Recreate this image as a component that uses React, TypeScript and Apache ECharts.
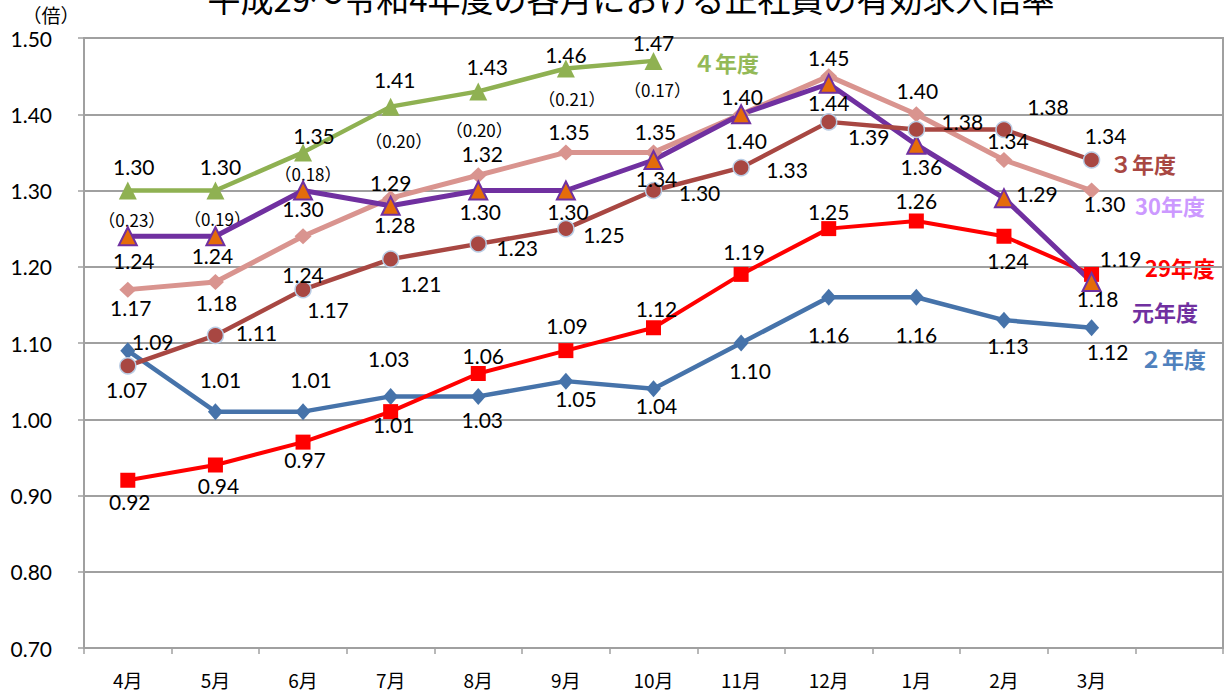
import React, { useEffect, useRef } from "react";
import * as echarts from "echarts";

const months = ["4月", "5月", "6月", "7月", "8月", "9月", "10月", "11月", "12月", "1月", "2月", "3月", ""];
const tickValues = [0.7, 0.8, 0.9, 1.0, 1.1, 1.2, 1.3, 1.4, 1.5];

const fy2 = [1.09, 1.01, 1.01, 1.03, 1.03, 1.05, 1.04, 1.10, 1.16, 1.16, 1.13, 1.12];
const fy29 = [0.92, 0.94, 0.97, 1.01, 1.06, 1.09, 1.12, 1.19, 1.25, 1.26, 1.24, 1.19];
const fy30 = [1.17, 1.18, 1.24, 1.29, 1.32, 1.35, 1.35, 1.40, 1.45, 1.40, 1.34, 1.30];
const fyR1 = [1.24, 1.24, 1.30, 1.28, 1.30, 1.30, 1.34, 1.40, 1.44, 1.36, 1.29, 1.18];
const fy3 = [1.07, 1.11, 1.17, 1.21, 1.23, 1.25, 1.30, 1.33, 1.39, 1.38, 1.38, 1.34];
const fy4 = [1.30, 1.30, 1.35, 1.41, 1.43, 1.46, 1.47];
const diff4 = [0.23, 0.19, 0.18, 0.20, 0.20, 0.21, 0.17];

// label offsets (style only)
const blueOff = [[25, -9], [5, -32], [8, -32], [-2, -38], [4, 23], [10, 17], [3, 17], [9, 27], [0, 37], [0, 37], [4, 25], [16, 24]];
const redOff = [[2, 21], [3, 20], [2, 17], [3, 13], [5, -18], [1, -25], [3, -19], [3, -23], [0, -17], [0, -21], [4, 24], [29, -16]];
const pinkOff = [[3, 18], [1, 20], [0, 38], [0, -16], [4, -22], [3, -21], [2, -21], [1, -18], [0, -19], [1, -24], [4, -20], [13, 13]];
const purpleOff = [[6, 24], [-3, 19], [0, 18], [4, 19], [2, 21], [2, 21], [3, 18], [5, 26], [0, 19], [5, 22], [33, -5], [6, 16]];
const brownOff = [[-1, 24], [41, -3], [25, 20], [30, 24], [39, 4], [38, 6], [46, 2], [46, 2], [40, 15], [46, -8], [44, -23], [14, -25]];
const greenOff = [[6, -24], [5, -24], [11, -17], [4, -27], [9, -25], [0, -14], [0, -18]];
const diffOff = [[4, 29], [2, 28], [5, 21], [8, 34], [1, 38], [6, 30], [4, 29]];

const LABEL_FONT = "Lato, 'Noto Sans', sans-serif";
const CJK = "'Noto Sans CJK JP', 'Noto Sans', sans-serif";

function withLabels(values: number[], offs: number[][]) {
  return values.map((v, i) => ({
    value: v,
    label: { position: "inside", offset: offs[i] },
  }));
}

export default function App() {
  const ref = useRef<HTMLDivElement>(null);
  useEffect(() => {
    document.body.style.margin = "0";
    const chart = echarts.init(ref.current!, null, { renderer: "svg" });
    const baseLabel = {
      show: true,
      color: "#000",
      fontSize: 21,
      fontFamily: LABEL_FONT,
      formatter: (p: any) => Number(p.value).toFixed(2),
    };
    const mk = (name: string, values: number[], offs: number[][], color: string, width: number, symbol: string, symbolSize: any, itemStyle: any) => ({
      name,
      type: "line",
      data: withLabels(values, offs),
      symbol,
      symbolSize,
      lineStyle: { color, width },
      itemStyle,
      label: baseLabel,
      emphasis: { disabled: true },
      z: 2,
    });
    const option: any = {
      animation: false,
      grid: { left: 84, right: 2, top: 38, bottom: 45, show: true, borderColor: "#A0A0A0", borderWidth: 2 },
      xAxis: {
        type: "category",
        data: months,
        boundaryGap: true,
        axisLine: { lineStyle: { color: "#A0A0A0", width: 2 } },
        axisTick: { show: true, interval: 0, length: 6, lineStyle: { color: "#A0A0A0", width: 1.5 } },
        axisLabel: { color: "#000", fontSize: 19, fontFamily: CJK, margin: 22, interval: 0 },
        splitLine: { show: false },
      },
      yAxis: {
        type: "value",
        min: tickValues[0],
        max: tickValues[tickValues.length - 1],
        interval: 0.1,
        axisLine: { show: true, lineStyle: { color: "#A0A0A0", width: 2 } },
        axisTick: { show: true, length: 6, lineStyle: { color: "#A0A0A0", width: 1.5 } },
        axisLabel: { color: "#000", fontSize: 21, fontFamily: LABEL_FONT, margin: 32, formatter: (v: number) => v.toFixed(2) },
        splitLine: { show: true, lineStyle: { color: "#A0A0A0", width: 2 } },
      },
      series: [
        mk("２年度", fy2, blueOff, "#4673AA", 4.5, "diamond", [15, 17], { color: "#4673AA" }),
        mk("29年度", fy29, redOff, "#FF0000", 4, "rect", 15, { color: "#FF0000" }),
        mk("30年度", fy30, pinkOff, "#D9948F", 5, "diamond", [17, 16], { color: "#D9948F" }),
        mk("元年度", fyR1, purpleOff, "#7030A0", 5, "triangle", 18, { color: "#E46C0A", borderColor: "#7030A0", borderWidth: 2 }),
        mk("３年度", fy3, brownOff, "#A84742", 4.5, "circle", 16, { color: "#A84742", borderColor: "#B9CDE5", borderWidth: 1.5 }),
        mk("４年度", fy4, greenOff, "#8FB152", 4.5, "triangle", 18, { color: "#8FB152" }),
        {
          name: "diff",
          type: "line",
          data: withLabels(fy4, diffOff),
          symbol: "circle",
          symbolSize: 1,
          itemStyle: { color: "rgba(0,0,0,0)" },
          lineStyle: { width: 0, opacity: 0 },
          label: {
            show: true,
            color: "#000",
            fontSize: 17,
            fontFamily: CJK,
            formatter: (p: any) => "（" + diff4[p.dataIndex].toFixed(2) + "）",
          },
          emphasis: { disabled: true },
          silent: true,
          z: 1,
        },
      ],
      graphic: [
        {
          type: "text",
          style: { text: "平成29～令和4年度の各月における正社員の有効求人倍率", x: 631, y: 14, align: "center", verticalAlign: "bottom", fontSize: 33, fontFamily: CJK, fill: "#000" },
        },
        { type: "text", style: { text: "（倍）", x: 51, y: 14, align: "center", verticalAlign: "middle", fontSize: 19, fontFamily: CJK, fill: "#000" } },
        { type: "text", style: { text: "４年度", x: 693, y: 62, align: "left", verticalAlign: "middle", fontSize: 22, fontWeight: "bold", fontFamily: CJK, fill: "#93B957" } },
        { type: "text", style: { text: "３年度", x: 1110, y: 163, align: "left", verticalAlign: "middle", fontSize: 22, fontWeight: "bold", fontFamily: CJK, fill: "#A84742" } },
        { type: "text", style: { text: "30年度", x: 1135, y: 205, align: "left", verticalAlign: "middle", fontSize: 22, fontWeight: "bold", fontFamily: CJK, fill: "#CC99FF" } },
        { type: "text", style: { text: "29年度", x: 1145, y: 267, align: "left", verticalAlign: "middle", fontSize: 22, fontWeight: "bold", fontFamily: CJK, fill: "#FF0000" } },
        { type: "text", style: { text: "元年度", x: 1132, y: 311, align: "left", verticalAlign: "middle", fontSize: 22, fontWeight: "bold", fontFamily: CJK, fill: "#7030A0" } },
        { type: "text", style: { text: "２年度", x: 1140, y: 358, align: "left", verticalAlign: "middle", fontSize: 22, fontWeight: "bold", fontFamily: CJK, fill: "#4F81BD" } },
      ],
    };
    chart.setOption(option);
    return () => chart.dispose();
  }, []);
  return <div ref={ref} style={{ position: "fixed", left: 0, top: 0, width: 1225, height: 693, background: "#fff" }} />;
}
